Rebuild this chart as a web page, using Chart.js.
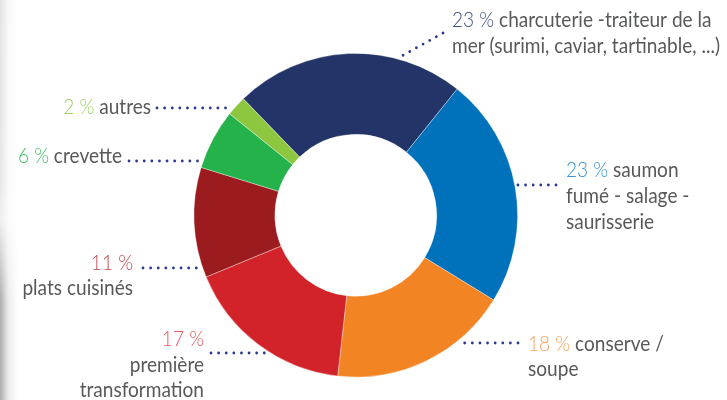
<!DOCTYPE html>
<html>
<head>
<meta charset="utf-8">
<script src="https://cdn.jsdelivr.net/npm/chart.js@4.4.1/dist/chart.umd.min.js"></script>
<style>
  html, body { margin: 0; padding: 0; background: #fff; }
  #wrap { position: relative; width: 727px; height: 400px; overflow: hidden; }
  #shade { position: absolute; left: 0; top: 0; width: 18px; height: 400px; pointer-events: none;
    background: linear-gradient(to right, rgba(0,0,0,0.32), rgba(0,0,0,0.08) 45%, rgba(0,0,0,0));
    -webkit-mask-image: linear-gradient(to bottom, rgba(0,0,0,0.35) 0%, rgba(0,0,0,0.3) 45%, rgba(0,0,0,0.2) 55%, rgba(0,0,0,1) 75%, rgba(0,0,0,1) 100%);
    mask-image: linear-gradient(to bottom, rgba(0,0,0,0.35) 0%, rgba(0,0,0,0.3) 45%, rgba(0,0,0,0.2) 55%, rgba(0,0,0,1) 75%, rgba(0,0,0,1) 100%); }
</style>
</head>
<body>
<div id="wrap">
  <canvas id="c" width="727" height="400"></canvas>
  <div id="shade"></div>
</div>
<script>
// ---- data ----
const categories = [
  "charcuterie -traiteur de la mer (surimi, caviar, tartinable, ...)",
  "saumon fumé - salage - saurisserie",
  "conserve / soupe",
  "première transformation",
  "plats cuisinés",
  "crevette",
  "autres"
];
const shares = [23, 23, 18, 17, 11, 6, 2];

// ---- styles ----
const sliceColors = ["#233468", "#0072BC", "#F38423", "#D2232A", "#9B1B1F", "#25B24B", "#8DC63F"];
const pctColors   = ["#3D4C88", "#3A93D6", "#F6A35C", "#E05A60", "#C0474C", "#3EBE63", "#A2D264"];
const textColor = "#58595B";
const dotColor = "#2B3990";
const FONT_TEXT = '400 22px Lato, "Open Sans", sans-serif';
const FONT_PCT = '300 22px Lato, "Open Sans", sans-serif';
const CONDENSE_REF_TEXT = "mer (surimi, caviar, tartinable, ...)";
const CONDENSE_REF_WIDTH = 268;

// ---- label layout (text line breaks, anchors) ----
const labelLayout = [
  { align: "left",  x: 452, baselines: [27, 53], lines: ["% charcuterie -traiteur de la", "mer (surimi, caviar, tartinable, ...)"],
    dot: { fromX: 443, fromY: 33, arcY: 58, side: 1, gap: 1 } },
  { align: "left",  x: 566, baselines: [177, 203, 229], lines: ["% saumon", "fumé - salage -", "saurisserie"],
    dot: { fromX: 556, fromY: 185, arcY: 185, side: 1, gap: 2 } },
  { align: "left",  x: 528, baselines: [351, 376], lines: ["% conserve /", "soupe"],
    dot: { fromX: 518, fromY: 343, arcY: 343, side: 1, gap: 5 } },
  { align: "right", x: 204, baselines: [346, 372, 397], lines: ["%", "première", "transformation"],
    dot: { fromX: 211, fromY: 353, arcY: 353, side: -1, gap: 2 } },
  { align: "right", x: 133, baselines: [270, 295], lines: ["%", "plats cuisinés"],
    dot: { fromX: 143, fromY: 268, arcY: 268, side: -1, gap: 1 } },
  { align: "right", x: 122, baselines: [163], lines: ["% crevette"],
    dot: { fromX: 129, fromY: 161, arcY: 161, side: -1, gap: 3 } },
  { align: "right", x: 151, baselines: [114], lines: ["% autres"],
    dot: { fromX: 157, fromY: 108, arcY: 108, side: -1, gap: 3 } }
];

const labelPlugin = {
  id: "outLabels",
  afterDraw(chart) {
    const ctx = chart.ctx;
    const meta = chart.getDatasetMeta(0);
    const arc0 = meta.data[0];
    const cx = arc0.x, cy = arc0.y, R = arc0.outerRadius;
    const values = chart.data.datasets[0].data;
    ctx.save();
    labelLayout.forEach((L) => {
      const d = L.dot;
      const dy = d.arcY - cy;
      const rr = R + d.gap;
      const ex = cx + d.side * Math.sqrt(Math.max(rr * rr - dy * dy, 0));
      ctx.beginPath();
      ctx.strokeStyle = dotColor;
      ctx.lineWidth = 2.8;
      ctx.lineCap = "round";
      ctx.setLineDash([0.01, 7.6]);
      ctx.moveTo(d.fromX, d.fromY);
      ctx.lineTo(ex, d.arcY);
      ctx.stroke();
    });
    ctx.setLineDash([]);
    ctx.textBaseline = "alphabetic";
    ctx.textAlign = "left";
    ctx.font = FONT_TEXT;
    const k = CONDENSE_REF_WIDTH / ctx.measureText(CONDENSE_REF_TEXT).width;
    const w = (p) => { ctx.font = p.f; return ctx.measureText(p.t).width * k; };
    labelLayout.forEach((L, i) => {
      const pct = values[i] + " %";
      L.lines.forEach((line, j) => {
        const y = L.baselines[j];
        let parts;
        if (line.startsWith("%")) {
          parts = [{ t: pct, c: pctColors[i], f: FONT_PCT }, { t: line.slice(1), c: textColor, f: FONT_TEXT }];
        } else {
          parts = [{ t: line, c: textColor, f: FONT_TEXT }];
        }
        const total = parts.reduce((s, p) => s + w(p), 0);
        let x = L.align === "left" ? L.x : L.x - total;
        parts.forEach((p) => {
          const pw = w(p);
          ctx.save();
          ctx.font = p.f;
          ctx.translate(x, y);
          ctx.scale(k, 1);
          ctx.fillStyle = p.c;
          ctx.fillText(p.t, 0, 0);
          ctx.restore();
          x += pw;
        });
      });
    });
    ctx.restore();
  }
};

new Chart(document.getElementById("c"), {
  type: "doughnut",
  data: {
    labels: categories,
    datasets: [{
      data: shares,
      backgroundColor: sliceColors,
      borderColor: "rgba(255,255,255,0.45)",
      borderWidth: 0.8
    }]
  },
  options: {
    responsive: false,
    animation: false,
    rotation: -44,
    cutout: "50%",
    layout: { padding: { left: 193, top: 53, right: 208.5, bottom: 22.5 } },
    plugins: { legend: { display: false }, tooltip: { enabled: false } }
  },
  plugins: [labelPlugin]
});
</script>
</body>
</html>
